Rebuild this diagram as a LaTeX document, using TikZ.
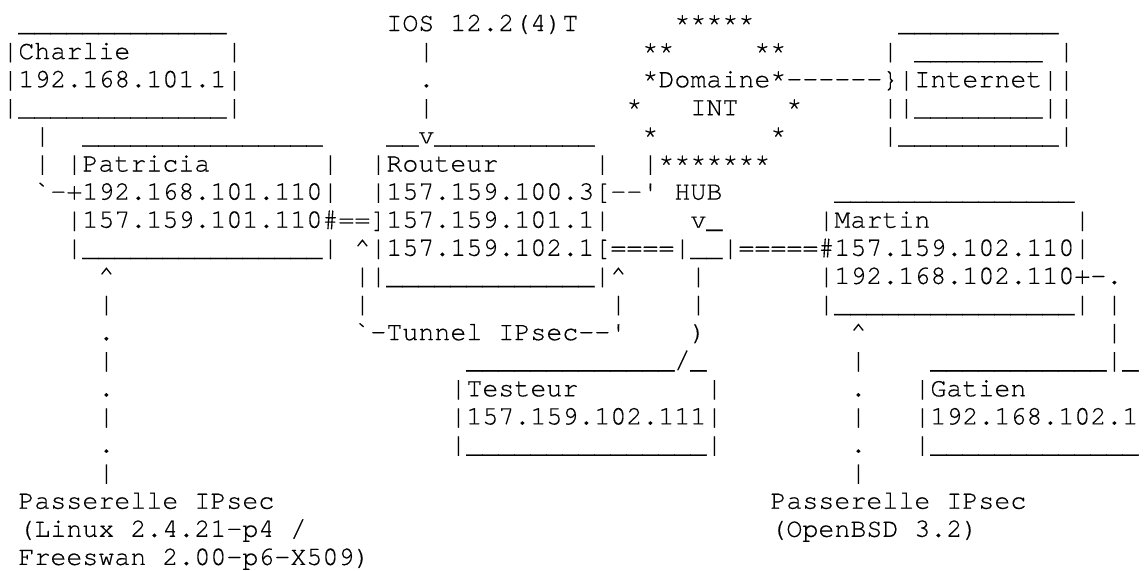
\documentclass[tikz,border=0pt]{standalone}
\usepackage{fontspec}
\setmonofont{TeX Gyre Cursor}[FakeBold=0.4]
\usepackage{tikz}
\frenchspacing

% a run of n underscores
\newcommand{\underrun}[1]{\foreach \k in {1,...,#1}{\_}}

\begin{document}
\begin{tikzpicture}[
  x=8pt, y=-14.05pt,
  txt/.style={font=\fontsize{13.333pt}{14pt}\selectfont\ttfamily, inner sep=0pt, anchor=base west}
]
  \useasboundingbox (-1pt,15.5pt) rectangle (571.5pt,-269.5pt);

  % row 0
  \node[txt] (charlieTop) at (1,0)  {\underrun{13}};
  \node[txt] (ios)        at (24,0) {IOS 12.2(4)T};
  \node[txt] (domTop)     at (42,0) {*****};
  \node[txt] (netTop)     at (56,0) {\underrun{10}};

  % row 1
  \node[txt] (charlie)    at (0,1)  {|Charlie~~~~~~|};
  \node[txt] (iosA)       at (26,1) {|};
  \node[txt] (domA)       at (40,1) {**~~~~~**};
  \node[txt] (netA)       at (55,1) {|~\underrun{8}~|};

  % row 2
  \node[txt] (charlieIp)  at (0,2)  {|192.168.101.1|};
  \node[txt] (iosB)       at (26,2) {.};
  \node[txt] (domName)    at (40,2) {*Domaine*------\}|Internet||};

  % row 3
  \node[txt] (charlieBot) at (0,3)  {|\underrun{13}|};
  \node[txt] (iosC)       at (26,3) {|};
  \node[txt] (domInt)     at (39,3) {*~~~INT~~~*};
  \node[txt] (netB)       at (55,3) {||\underrun{8}||};

  % row 4
  \node[txt] (chA)        at (2,4)  {|};
  \node[txt] (patTop)     at (5,4)  {\underrun{15}};
  \node[txt] (rtrTop)     at (24,4) {\_\_v\underrun{10}};
  \node[txt] (domB)       at (40,4) {*~~~~~~~*};
  \node[txt] (netBot)     at (55,4) {|\underrun{10}|};

  % row 5
  \node[txt] (chB)        at (2,5)  {|};
  \node[txt] (patricia)   at (4,5)  {|Patricia~~~~~~~|};
  \node[txt] (routeur)    at (23,5) {|Routeur~~~~~~|};
  \node[txt] (domBot)     at (40,5) {|*******};

  % row 6
  \node[txt] (patIpA)     at (2,6)  {`-+192.168.101.110|};
  \node[txt] (rtrIpA)     at (23,6) {|157.159.100.3[--'~HUB};
  \node[txt] (martinTop)  at (52,6) {\underrun{15}};

  % row 7
  \node[txt] (patIpB)     at (4,7)  {|157.159.101.110\#==]157.159.101.1|};
  \node[txt] (hubTop)     at (43,7) {v\_};
  \node[txt] (martin)     at (51,7) {|Martin~~~~~~~~~|};

  % row 8
  \node[txt] (patBot)     at (4,8)  {|\underrun{15}|};
  \node[txt] (rtrIpC)     at (22,8) {\textasciicircum|157.159.102.1[};
  \node[txt] (hub)        at (38,8) {====|\_\_|=====};
  \node[txt] (martinIpA)  at (51,8) {\#157.159.102.110|};

  % row 9
  \node[txt] (gwA)        at (6,9)  {\textasciicircum};
  \node[txt] (rtrBot)     at (22,9) {||\underrun{13}|\textasciicircum};
  \node[txt] (hubA)       at (43,9) {|};
  \node[txt] (martinIpB)  at (51,9) {|192.168.102.110+-.};

  % row 10
  \node[txt] (gwB)        at (6,10)  {|};
  \node[txt] (tunA)       at (22,10) {|};
  \node[txt] (tunB)       at (38,10) {|};
  \node[txt] (hubB)       at (43,10) {|};
  \node[txt] (martinBot)  at (51,10) {|\underrun{15}|~|};

  % row 11
  \node[txt] (gwC)        at (6,11)  {.};
  \node[txt] (tunnel)     at (22,11) {`-Tunnel~IPsec--'};
  \node[txt] (hubC)       at (43,11) {)};
  \node[txt] (bsdA)       at (53,11) {\textasciicircum};
  \node[txt] (lanA)       at (69,11) {|};

  % row 12
  \node[txt] (gwD)        at (6,12)  {|};
  \node[txt] (testTop)    at (29,12) {\underrun{13}/\_};
  \node[txt] (bsdB)       at (53,12) {|};
  \node[txt] (gatienTop)  at (58,12) {\underrun{11}|\_};

  % row 13
  \node[txt] (gwE)        at (6,13)  {.};
  \node[txt] (testeur)    at (28,13) {|Testeur~~~~~~~~|};
  \node[txt] (bsdC)       at (53,13) {.};
  \node[txt] (gatien)     at (57,13) {|Gatien};

  % row 14
  \node[txt] (gwF)        at (6,14)  {|};
  \node[txt] (testIp)     at (28,14) {|157.159.102.111|};
  \node[txt] (bsdD)       at (53,14) {|};
  \node[txt] (gatienIp)   at (57,14) {|192.168.102.1};

  % row 15
  \node[txt] (gwG)        at (6,15)  {.};
  \node[txt] (testBot)    at (28,15) {|\underrun{15}|};
  \node[txt] (bsdE)       at (53,15) {.};
  \node[txt] (gatienBot)  at (57,15) {|\underrun{13}};

  % right edge of the Gatien box
  \foreach \r in {13,14,15}
    \node[txt] (gatienEdge\r) at (71,\r) {|};

  % row 16
  \node[txt] (gwH)        at (6,16)  {|};
  \node[txt] (bsdF)       at (53,16) {|};

  % gateways
  \node[txt] (linuxGw)    at (1,17)  {Passerelle~IPsec};
  \node[txt] (linuxOs)    at (1,18)  {(Linux~2.4.21-p4~/};
  \node[txt] (linuxFs)    at (1,19)  {Freeswan~2.00-p6-X509)};
  \node[txt] (bsdGw)      at (48,17) {Passerelle~IPsec};
  \node[txt] (bsdOs)      at (48,18) {(OpenBSD~3.2)};
\end{tikzpicture}
\end{document}
